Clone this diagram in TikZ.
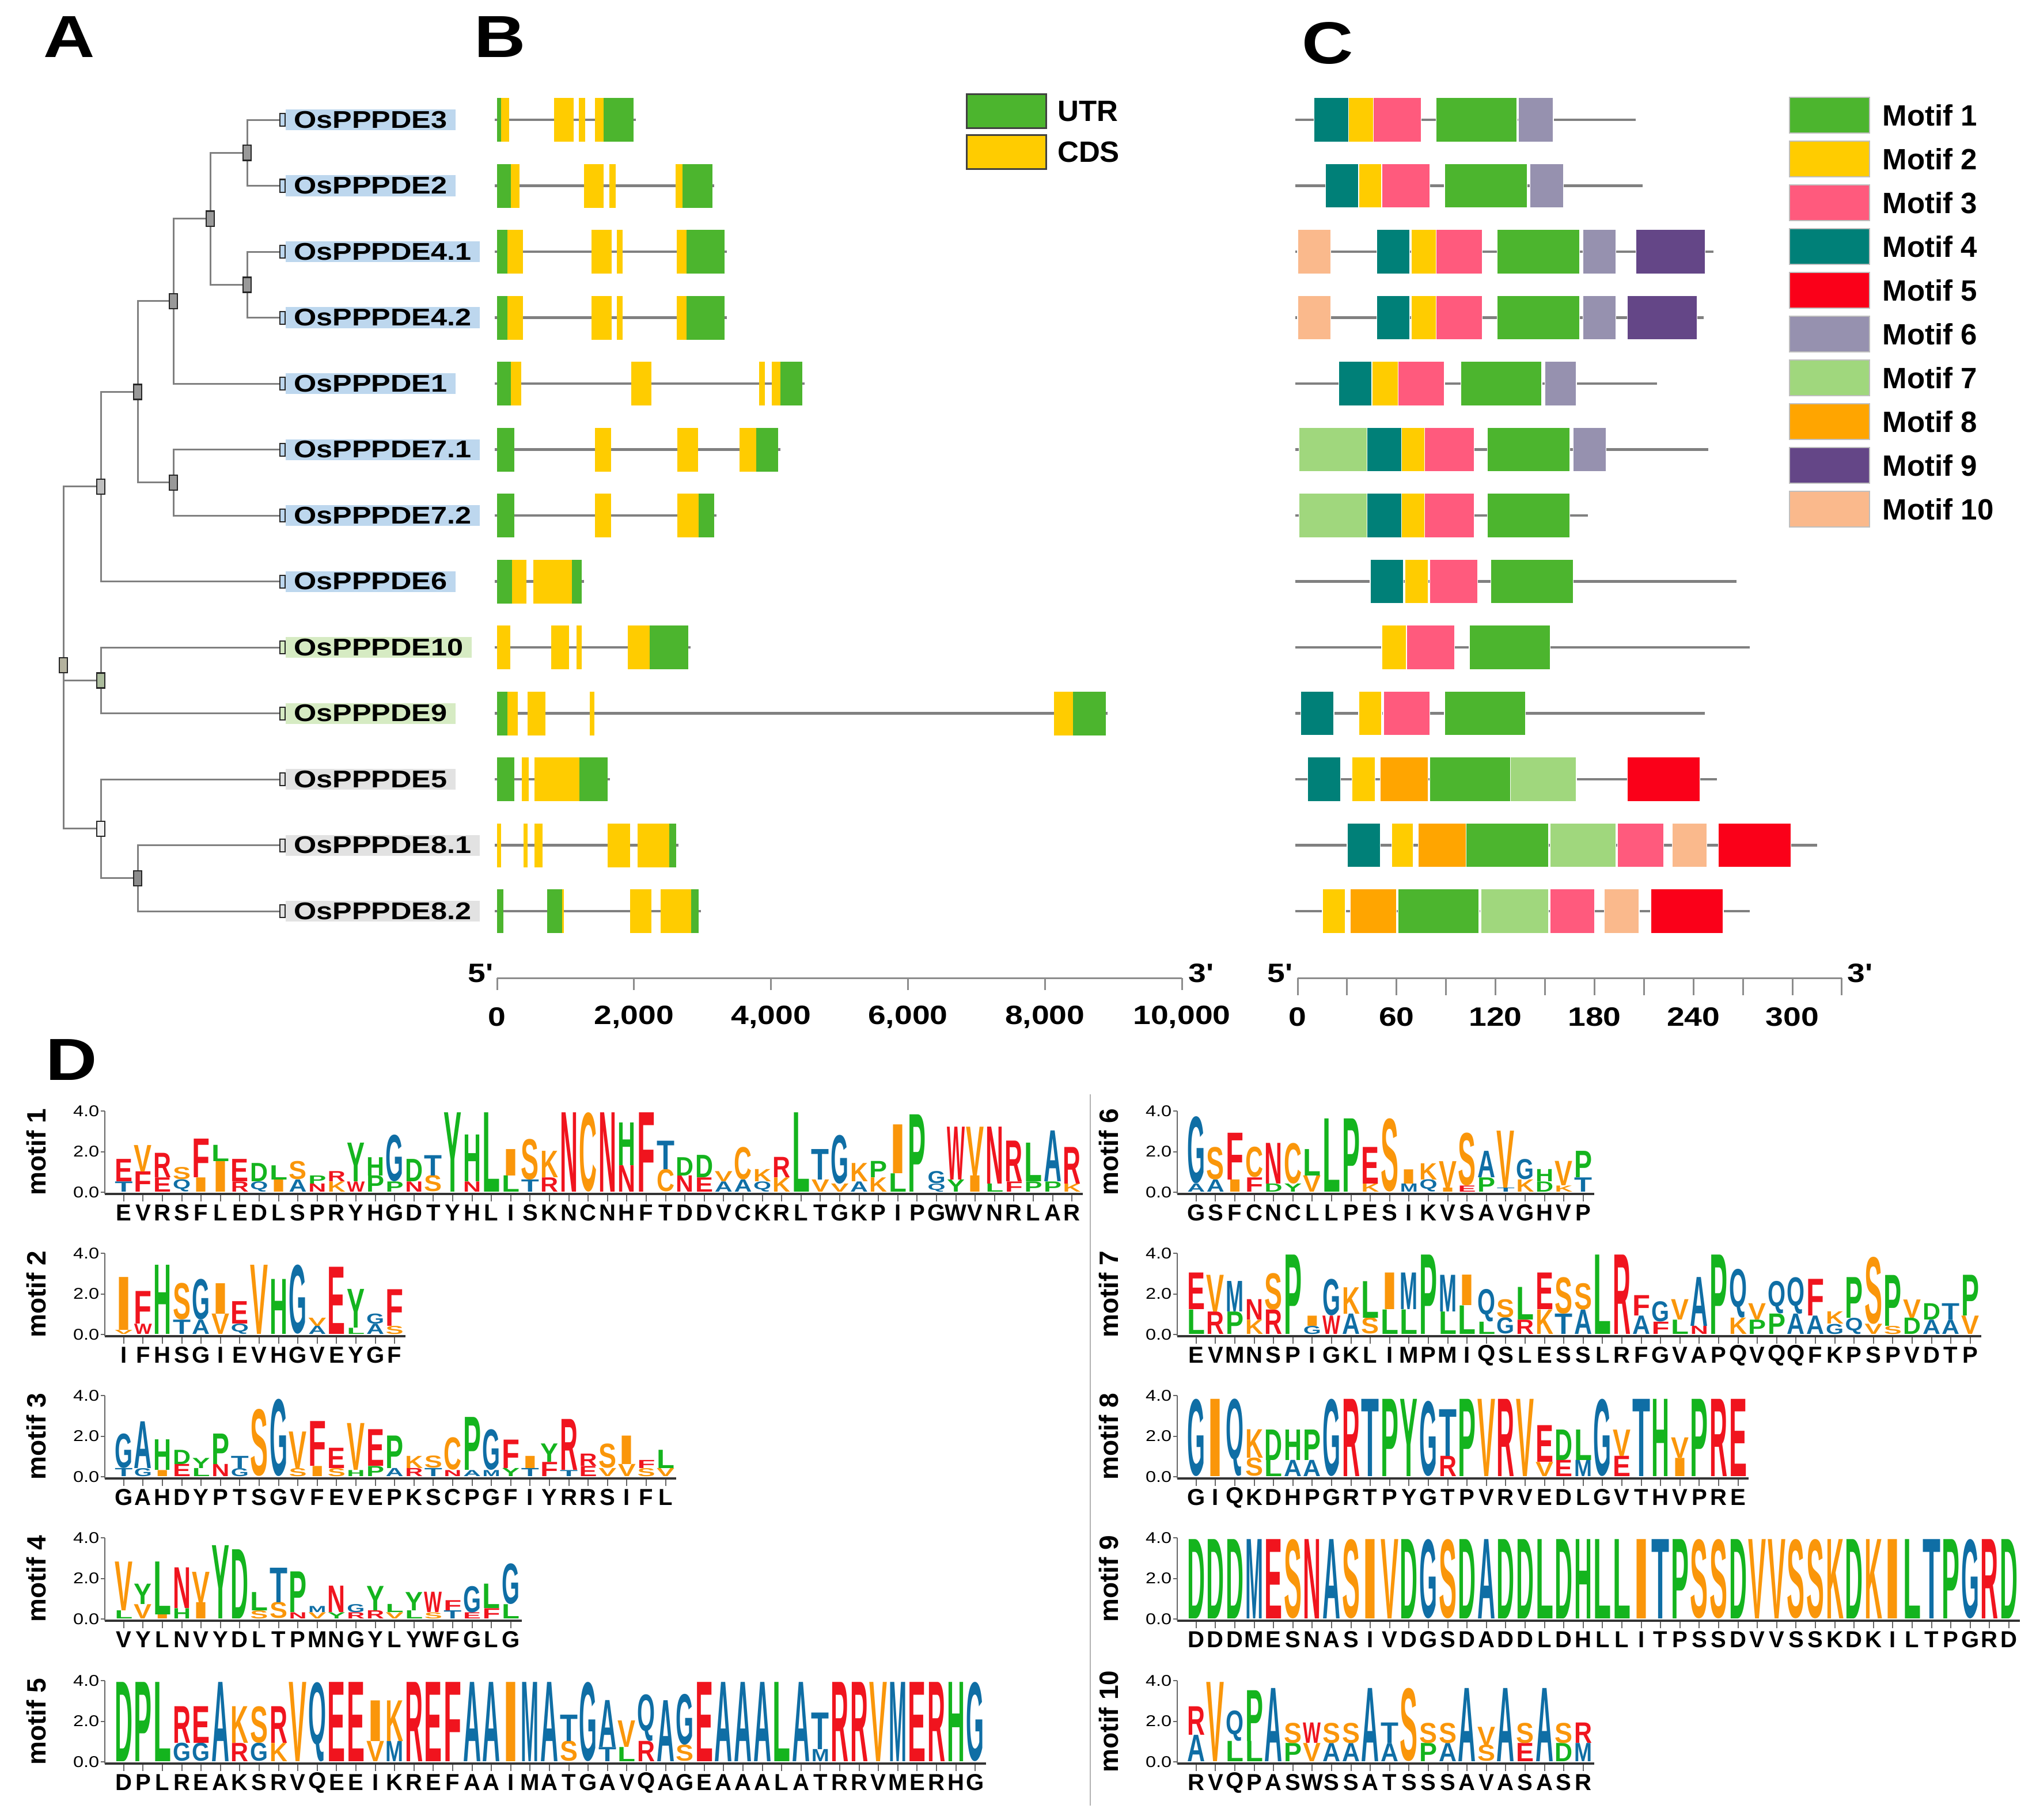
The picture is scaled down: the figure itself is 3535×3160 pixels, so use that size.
\documentclass[tikz,border=0pt]{standalone}
\usepackage{fontspec}
\setmainfont{Liberation Sans}
\newfontfamily\widefont{Liberation Sans}[FakeStretch=1.2]
\usepackage{graphicx}
\usetikzlibrary{positioning}

\definecolor{segU}{RGB}{76,181,46}
\definecolor{segC}{RGB}{255,204,0}
\definecolor{mot1}{RGB}{76,181,46}
\definecolor{mot2}{RGB}{255,204,0}
\definecolor{mot3}{RGB}{255,90,125}
\definecolor{mot4}{RGB}{0,128,120}
\definecolor{mot5}{RGB}{250,0,25}
\definecolor{mot6}{RGB}{150,145,175}
\definecolor{mot7}{RGB}{160,215,125}
\definecolor{mot8}{RGB}{255,165,0}
\definecolor{mot9}{RGB}{100,70,135}
\definecolor{mot10}{RGB}{250,185,140}
\definecolor{hlblue}{RGB}{189,215,238}
\definecolor{hlgreen}{RGB}{214,235,195}
\definecolor{hlgray}{RGB}{226,226,226}
\definecolor{aared}{RGB}{240,20,30}
\definecolor{aaorange}{RGB}{250,150,10}
\definecolor{aagreen}{RGB}{20,180,30}
\definecolor{aablue}{RGB}{15,110,165}
\colorlet{aaE}{aared}\colorlet{aaR}{aared}\colorlet{aaF}{aared}\colorlet{aaN}{aared}\colorlet{aaW}{aared}
\colorlet{aaV}{aaorange}\colorlet{aaS}{aaorange}\colorlet{aaI}{aaorange}\colorlet{aaC}{aaorange}\colorlet{aaK}{aaorange}
\colorlet{aaL}{aagreen}\colorlet{aaD}{aagreen}\colorlet{aaP}{aagreen}\colorlet{aaY}{aagreen}\colorlet{aaH}{aagreen}
\colorlet{aaG}{aablue}\colorlet{aaT}{aablue}\colorlet{aaA}{aablue}\colorlet{aaM}{aablue}\colorlet{aaQ}{aablue}

\tikzset{
  branch/.style={draw=black!50, line width=0.03cm},
  leafbox/.style={draw=black!85, fill=#1, line width=0.02cm, minimum width=0.09cm, minimum height=0.22cm, inner sep=0},
  inbox/.style={draw=black!85, fill=#1, line width=0.025cm, minimum width=0.14cm, minimum height=0.26cm, inner sep=0},
  genelabel/.style={fill=#1, inner xsep=0.14cm, inner ysep=0, minimum height=0.36cm, font=\widefont\bfseries\fontsize{11.95}{13}\selectfont},
  intron/.style={draw=black!50, line width=0.045cm},
  motseg/.style={fill=mot#1, draw=white, line width=0.012cm},
  scaleline/.style={draw=black!45, line width=0.03cm},
  scalenum/.style={font=\widefont\bfseries\fontsize{13.1}{14}\selectfont, inner sep=0},
  panel/.style={font=\widefont\bfseries\fontsize{29.3}{30}\selectfont, inner sep=0},
  legbox/.style={draw=black!75, line width=0.03cm, minimum width=1.37cm, minimum height=0.58cm, inner sep=0},
  motbox/.style={draw=black!25, line width=0.02cm, minimum width=1.39cm, minimum height=0.61cm, inner sep=0},
  legtext/.style={font=\bfseries\fontsize{14.5}{15}\selectfont, inner sep=0},
  aa/.style={anchor=south, inner sep=0, text=aa#1, font=\bfseries},
  cons/.style={inner sep=0, font=\bfseries\fontsize{11.4}{12}\selectfont},
  lgaxis/.style={draw=black!80, line width=0.035cm},
  lgtick/.style={draw=black!60, line width=0.02cm},
  ticklab/.style={anchor=east, inner sep=0.02cm, font=\widefont\fontsize{7.7}{8}\selectfont},
  motiflab/.style={rotate=90, inner sep=0, font=\bfseries\fontsize{13.1}{14}\selectfont},
  sepline/.style={draw=black!30, line width=0.02cm}
}

% #1 x of the bit axis, #2 y of the zero line, #3 label, #4 name, #5 columns top/h/below/h
\newcommand\drawlogo[5]{%
  \foreach \a/\ha/\b/\hb [count=\i] in {#5}{%
    \pgfmathsetmacro\cx{#1+16+33.6*(\i-0.5)}%
    \ifdim\hb pt>0pt
      \pgfmathsetmacro\hcm{0.353*\hb}%
      \node[aa=\b] (#4b\i) at (\cx,#2) {\resizebox*{0.31cm}{\hcm cm}{\b}};
    \fi
    \pgfmathsetmacro\hcm{0.353*\ha}%
    \node[aa=\a] (#4a\i) at (\cx,#2-35.3*\hb) {\resizebox*{0.31cm}{\hcm cm}{\a}};
    \node[cons] (#4c\i) at (\cx,#2+36) {\a};
    \draw[lgtick] (\cx,#2+5) -- (\cx,#2+16);
    \xdef\loglen{\i}%
  }
  \draw[lgaxis] (#1,#2+3) -- ({#1+16+33.6*\loglen+2},#2+3);
  \draw[lgtick] (#1,#2+3) -- (#1,#2-141);
  \foreach \v/\vl in {0/0.0,2/2.0,4/4.0}{
    \draw[lgtick] (#1-7,#2-35.25*\v) -- (#1,#2-35.25*\v);
    \node[ticklab] (#4y\v) at (#1-7,#2-35.25*\v) {\vl};
  }
  \node[motiflab] (#4lab) at (#1-119,#2-70) {#3};
}

\begin{document}
\begin{tikzpicture}[x=0.01cm, y=-0.01cm]
\useasboundingbox (0,0) rectangle (3535,3160);

\node[panel] (pA) at (120,64) {A};
\node[panel] (pB) at (868,64) {B};
\node[panel] (pC) at (2305,75) {C};
\node[panel] (pD) at (124,1840) {D};

% tree
\foreach \id/\nm/\hc [count=\r from 0] in {E3/OsPPPDE3/hlblue, E2/OsPPPDE2/hlblue,
    E41/OsPPPDE4.1/hlblue, E42/OsPPPDE4.2/hlblue, E1/OsPPPDE1/hlblue,
    E71/OsPPPDE7.1/hlblue, E72/OsPPPDE7.2/hlblue, E6/OsPPPDE6/hlblue,
    E10/OsPPPDE10/hlgreen, E9/OsPPPDE9/hlgreen, E5/OsPPPDE5/hlgray,
    E81/OsPPPDE8.1/hlgray, E82/OsPPPDE8.2/hlgray}{
  \node[leafbox=\hc] (\id) at (490,208+114.5*\r) {};
  \node[genelabel=\hc, right=0cm of \id] (lab\id) {\nm\hspace{0.08cm}};
}
\node[inbox=black!40] (n32) at (429,265.25) {};
\node[inbox=black!40] (n4) at (429,494.25) {};
\node[inbox=black!40] (n324) at (365,379.75) {};
\node[inbox=black!40] (n1) at (301,522.9) {};
\node[inbox=black!40] (n7) at (301,837.75) {};
\node[inbox=black!40] (n17) at (239,680.3) {};
\node[inbox=black!25] (n6) at (175,844.9) {};
\node[inbox=hlgreen!80!black] (n109) at (175,1181.25) {};
\node[inbox=black!45] (n8) at (239,1524.75) {};
\node[inbox=black!5] (n58) at (175,1438.9) {};
\node[inbox=olive!30!black!40] (root) at (110,1155) {};
\draw[branch] (n32) |- (E3) (n32) |- (E2)
  (n4) |- (E41) (n4) |- (E42)
  (n324) |- (n32) (n324) |- (n4)
  (n1) |- (n324) (n1) |- (E1)
  (n7) |- (E71) (n7) |- (E72)
  (n17) |- (n1) (n17) |- (n7)
  (n6) |- (n17) (n6) |- (E6)
  (n109) |- (E10) (n109) |- (E9)
  (n8) |- (E81) (n8) |- (E82)
  (n58) |- (E5) (n58) |- (n8)
  (root) |- (n6) (root) |- (n109) (root) |- (n58);

% gene structures, in bp
\begin{scope}[shift={(863,0)}, x=0.001189cm]
\foreach \r/\glen/\segs in {
  0/1994/{U/0/57,C/57/173,C/829/1119,C/1196/1286,C/1428/1557,U/1557/1994},
  1/3140/{U/0/205,C/205/327,C/1267/1550,C/1640/1730,C/2606/2708,U/2708/3140},
  2/3320/{U/0/153,C/153/378,C/1376/1672,C/1743/1827,C/2618/2760,U/2760/3320},
  3/3320/{U/0/153,C/153/378,C/1376/1672,C/1743/1827,C/2618/2760,U/2760/3320},
  4/4453/{U/0/205,C/205/353,C/1955/2251,C/3822/3906,C/4002/4131,U/4131/4453},
  5/4099/{U/0/250,C/1428/1666,C/2631/2927,C/3532/3777,U/3777/4099},
  6/3168/{U/0/254,C/1428/1666,C/2631/2943,U/2943/3168},
  7/1238/{U/0/217,C/217/427,C/525/1088,U/1088/1238},
  8/2792/{C/0/194,C/787/1050,C/1163/1238,C/1906/2229,U/2229/2792},
  9/8875/{U/0/149,C/149/299,C/442/705,C/1351/1418,C/8124/8402,U/8402/8875},
  10/1613/{U/0/254,C/359/464,C/547/1200,U/1200/1613},
  11/2612/{C/0/59,C/389/449,C/547/667,C/1613/1936,C/2049/2515,U/2515/2612},
  12/2943/{U/0/89,U/727/952,C/952/975,C/1936/2251,C/2387/2830,U/2830/2943}}{
  \pgfmathsetmacro\ry{208+114.5*\r}
  \draw[intron] (-30,\ry) -- (\glen+30,\ry);
  \foreach \kind/\a/\b in \segs
    \fill[fill=seg\kind] (\a,\ry-38) rectangle (\b,\ry+38);
}
\end{scope}
\draw[scaleline] (863,1698) -- (2052,1698);
\foreach \k/\lab in {0/0,1/{2,000},2/{4,000},3/{6,000},4/{8,000},5/{10,000}}{
  \draw[scaleline] (863+237.8*\k,1698) -- (863+237.8*\k,1719);
  \node[scalenum] (bs\k) at (863+237.8*\k,1766) {\lab};
}
\node[scalenum, anchor=east] (b5) at (857,1690) {5'};
\node[scalenum, anchor=west] (b3) at (2063,1690) {3'};

\node[legbox, fill=segU] (kutr) at (1747.5,193) {};
\node[legbox, fill=segC] (kcds) at (1747.5,264) {};
\node[legtext, right=0.18cm of kutr] (tutr) {UTR};
\node[legtext, right=0.18cm of kcds] (tcds) {CDS};

% conserved motifs, in aa
\begin{scope}[shift={(2253,0)}, x=0.02863cm]
\foreach \r/\plen/\mots in {
  0/205/{4/10/31,2/31/46,3/46/75,1/84/133,6/134/155},
  1/209/{4/17/37,2/37/51,3/51/80,1/89/139,6/141/161},
  2/252/{10/0/20,4/48/68,2/69/84,3/84/112,1/121/171,6/173/193,9/205/247},
  3/246/{10/0/20,4/48/68,2/69/84,3/84/112,1/121/171,6/173/193,9/200/242},
  4/218/{4/25/45,2/45/61,3/61/89,1/99/148,6/150/169},
  5/249/{7/1/42,4/42/63,2/63/77,3/77/107,1/115/165,6/167/187},
  6/176/{7/1/42,4/42/63,2/63/77,3/77/107,1/115/165},
  7/266/{4/44/64,2/65/79,3/80/109,1/117/167},
  8/274/{2/51/66,3/66/95,1/104/153},
  9/247/{4/2/22,2/37/51,3/52/80,1/89/138},
  10/254/{4/6/26,2/33/47,8/50/79,1/80/129,7/129/169,5/200/244},
  11/315/{4/30/50,2/57/70,8/73/102,1/102/152,7/153/193,3/194/222,10/227/248,5/255/299},
  12/274/{2/15/29,8/32/60,1/61/110,7/111/152,3/153/180,10/186/207,5/214/258}}{
  \pgfmathsetmacro\ry{208+114.5*\r}
  \draw[intron] (-1.5,\ry) -- (\plen,\ry);
  \foreach \m/\a/\b in \mots
    \filldraw[motseg=\m] (\a,\ry-38.5) rectangle (\b,\ry+38.5);
}
\end{scope}
\draw[scaleline] (2253,1698) -- (3198,1698);
\foreach \k in {0,...,11}
  \draw[scaleline] (2253+85.9*\k,1698) -- (2253+85.9*\k,1728);
\foreach \v [count=\k from 0] in {0,60,120,180,240,300}
  \node[scalenum] (cs\k) at (2253+171.8*\k,1766) {\v};
\node[scalenum, anchor=east] (c5) at (2245,1690) {5'};
\node[scalenum, anchor=west] (c3) at (3207,1690) {3'};

\foreach \m [count=\k from 0] in {1,...,10}{
  \node[motbox, fill=mot\m] (km\m) at (3176.5,200+76*\k) {};
  \node[legtext, right=0.21cm of km\m] (tm\m) {Motif \m};
}

% sequence logos
\draw[sepline] (1893,1900) -- (1893,3135);
\drawlogo{182}{2070}{motif 1}{lga}{E/1.1/T/0.5, V/1.3/F/1.0, R/1.2/E/0.7, S/0.6/Q/0.6, F/1.9/I/0.7, L/0.8/I/1.5, E/1.1/R/0.5, D/0.9/Q/0.5, L/0.7/I/0.6, S/0.9/A/0.6, P/0.4/N/0.4, R/0.5/K/0.5, Y/1.9/W/0.5, H/0.9/P/0.8, G/2.3/P/0.5, D/1.1/N/0.5, T/1.0/S/0.8, Y/3.9/Y/0, H/2.3/N/0.5, L/3.9/L/0, I/1.3/L/0.8, S/2.0/T/0.6, K/1.3/R/0.7, N/3.9/N/0, C/3.9/C/0, N/3.9/N/0, H/2.1/N/1.3, F/3.9/F/0, T/1.4/C/1.1, D/0.9/N/0.8, D/1.1/E/0.7, V/0.5/A/0.5, C/1.6/A/0.6, K/0.6/Q/0.5, R/1.0/K/0.7, L/3.9/L/0, T/1.5/V/0.6, G/2.4/V/0.4, K/0.9/A/0.5, P/0.8/K/0.7, I/2.4/L/0.9, P/3.8/P/0, G/0.6/Q/0.4, W/2.6/Y/0.6, V/2.4/I/0.8, N/2.8/L/0.4, R/2.0/F/0.5, L/1.9/P/0.5, A/2.5/P/0.5, R/1.8/K/0.4}
\drawlogo{182}{2317}{motif 2}{lgb}{I/2.6/V/0.2, F/1.6/W/0.5, H/3.4/H/0, S/1.8/T/0.7, G/2.0/A/0.7, I/1.5/V/1.0, E/1.1/Q/0.5, V/3.4/V/0, H/2.7/H/0, G/3.4/G/0, V/0.4/A/0.4, E/3.3/E/0, Y/1.9/L/0.3, G/0.5/A/0.5, F/1.8/S/0.4}
\drawlogo{182}{2564}{motif 3}{lgc}{G/1.7/T/0.4, A/2.3/G/0.4, H/1.5/I/0.3, D/0.7/E/0.6, Y/0.5/L/0.4, P/1.5/N/0.6, T/0.6/G/0.4, S/3.3/S/0, G/3.8/G/0, V/1.8/S/0.4, F/2.2/I/0.5, E/1.0/S/0.4, V/2.3/H/0.3, E/1.8/P/0.5, P/1.6/A/0.4, K/0.6/R/0.4, S/0.6/T/0.4, C/1.6/N/0.3, P/2.6/A/0.3, G/2.0/M/0.3, F/1.4/Y/0.4, I/0.6/T/0.4, Y/0.9/F/0.7, R/2.5/T/0.3, R/0.6/E/0.5, S/1.2/V/0.4, I/1.4/V/0.6, F/0.4/S/0.4, L/0.9/V/0.4}
\drawlogo{182}{2811}{motif 4}{lgd}{V/2.4/L/0.4, Y/1.0/V/0.7, L/2.6/I/0.2, N/2.0/H/0.5, V/1.5/I/0.8, Y/3.6/Y/0, D/3.4/D/0, L/0.9/S/0.4, T/1.7/S/0.8, P/2.0/N/0.3, M/0.3/V/0.3, N/1.3/Y/0.3, G/0.4/R/0.3, Y/1.2/R/0.4, L/0.4/V/0.3, Y/0.9/L/0.4, W/1.0/S/0.3, F/0.5/T/0.4, G/1.3/E/0.3, L/1.2/F/0.5, G/2.0/L/0.7}
\drawlogo{182}{3059}{motif 5}{lge}{D/3.9/D/0, P/3.9/P/0, L/3.9/L/0, R/1.8/G/0.9, E/1.8/G/0.9, A/3.9/A/0, K/1.8/R/0.9, S/1.8/G/0.9, R/1.8/K/0.9, V/3.9/V/0, Q/3.9/Q/0, E/3.9/E/0, E/3.9/E/0, I/2.0/V/1.0, K/2.0/M/1.0, R/3.9/R/0, E/3.9/E/0, F/3.9/F/0, A/3.9/A/0, A/3.9/A/0, I/3.9/I/0, M/3.9/M/0, A/3.9/A/0, T/1.3/S/1.0, G/3.9/G/0, A/2.3/T/0.7, V/1.3/L/0.7, Q/2.3/R/1.0, A/3.0/A/0, G/2.5/S/0.8, E/3.9/E/0, A/3.9/A/0, A/3.9/A/0, A/3.9/A/0, L/3.9/L/0, A/3.9/A/0, T/1.8/M/0.6, R/3.9/R/0, R/3.9/R/0, V/3.9/V/0, M/3.9/M/0, E/3.9/E/0, R/3.9/R/0, H/3.9/H/0, G/3.9/G/0}
\drawlogo{2044}{2070}{motif 6}{lgf}{G/3.3/A/0.4, S/1.6/A/0.6, F/2.3/I/0.6, C/1.5/F/0.7, N/2.0/D/0.4, C/2.0/Y/0.4, L/1.3/V/0.8, L/3.6/L/0, P/3.6/P/0, E/1.8/K/0.4, S/3.6/S/0, I/0.7/M/0.4, K/0.8/Q/0.6, V/1.3/I/0.2, S/2.6/E/0.3, A/1.3/P/0.7, V/2.8/T/0.2, G/1.0/K/0.6, H/0.6/D/0.5, V/1.2/K/0.3, P/1.3/T/0.7}
\drawlogo{2044}{2317}{motif 7}{lgg}{E/1.8/L/1.2, V/1.8/R/1.1, M/1.5/P/1.1, N/1.0/K/0.7, S/1.8/R/1.2, P/3.9/P/0, I/0.5/G/0.4, G/1.8/W/0.9, K/1.3/A/1.0, L/1.8/S/0.8, I/1.8/L/1.2, M/1.8/L/1.2, P/3.9/P/0, M/1.8/L/1.1, I/1.5/L/1.4, Q/1.6/L/0.6, S/0.9/G/0.8, L/1.6/R/0.7, E/1.8/K/1.2, S/1.8/T/1.0, S/1.3/A/1.2, L/3.9/L/0, R/3.9/R/0, F/1.0/A/0.9, G/1.0/F/0.6, V/1.0/L/0.7, A/2.4/N/0.4, P/3.9/P/0, Q/2.4/K/0.8, V/0.8/P/0.7, Q/1.6/P/1.0, Q/1.8/A/1.0, F/1.8/A/0.9, K/0.6/G/0.5, P/2.0/Q/0.8, S/3.3/V/0.5, P/2.5/S/0.4, V/0.9/D/0.8, D/0.8/A/0.7, T/0.8/A/0.7, P/2.0/V/0.9}
\drawlogo{2044}{2564}{motif 8}{lgh}{G/3.8/G/0, I/3.8/I/0, Q/3.8/Q/0, K/1.4/S/0.9, D/1.5/L/0.8, H/1.5/A/0.8, P/1.5/A/0.8, G/3.8/G/0, R/3.8/R/0, T/3.8/T/0, P/3.8/P/0, Y/3.8/Y/0, G/3.7/G/0, T/2.3/R/1.0, P/3.8/P/0, V/3.8/V/0, R/3.8/R/0, V/3.8/V/0, E/1.8/V/0.7, D/1.5/E/0.8, L/1.5/M/0.8, G/3.8/G/0, V/1.3/E/1.0, T/3.8/T/0, H/3.8/H/0, V/1.0/I/0.9, P/3.8/P/0, R/3.8/R/0, E/3.8/E/0}
\drawlogo{2044}{2811}{motif 9}{lgi}{D/3.9/D/0, D/3.9/D/0, D/3.9/D/0, M/3.9/M/0, E/3.9/E/0, S/3.9/S/0, N/3.9/N/0, A/3.9/A/0, S/3.9/S/0, I/3.9/I/0, V/3.9/V/0, D/3.9/D/0, G/3.9/G/0, S/3.9/S/0, D/3.9/D/0, A/3.9/A/0, D/3.9/D/0, D/3.9/D/0, L/3.9/L/0, D/3.9/D/0, H/3.9/H/0, L/3.9/L/0, L/3.9/L/0, I/3.9/I/0, T/3.9/T/0, P/3.9/P/0, S/3.9/S/0, S/3.9/S/0, D/3.9/D/0, V/3.9/V/0, V/3.9/V/0, S/3.9/S/0, S/3.9/S/0, K/3.9/K/0, D/3.9/D/0, K/3.9/K/0, I/3.9/I/0, L/3.9/L/0, T/3.9/T/0, P/3.9/P/0, G/3.9/G/0, R/3.9/R/0, D/3.9/D/0}
\drawlogo{2044}{3059}{motif 10}{lgj}{R/1.4/A/1.3, V/3.9/V/0, Q/1.5/L/1.0, P/2.5/L/1.0, A/3.6/A/0, S/1.0/P/0.9, W/1.0/V/0.9, S/1.0/A/0.9, S/1.0/A/0.9, A/3.6/A/0, T/1.0/A/0.9, S/3.6/S/0, S/1.0/P/0.9, S/1.0/A/0.9, A/3.6/A/0, V/0.9/S/0.8, A/3.6/A/0, S/1.0/E/0.9, A/3.6/A/0, S/1.0/D/0.9, R/1.0/M/0.9}
\end{tikzpicture}
\end{document}
